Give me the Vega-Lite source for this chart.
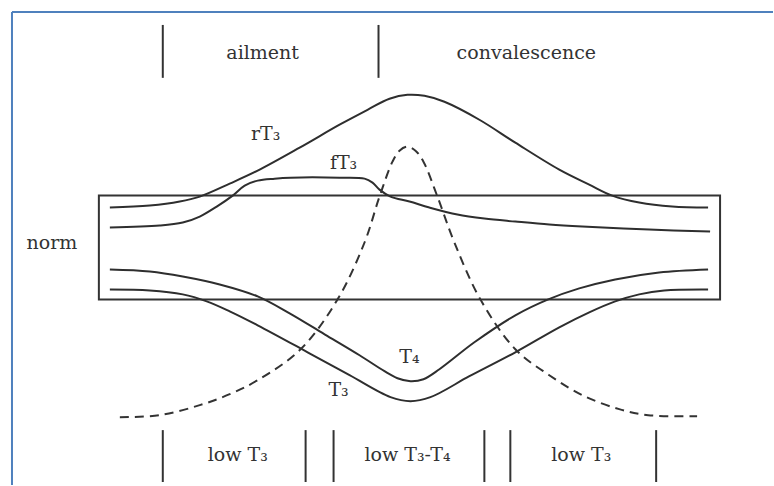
{
  "$schema": "https://vega.github.io/schema/vega-lite/v6.json",
  "width": 774,
  "height": 486,
  "autosize": {"type": "fit", "contains": "padding"},
  "padding": 0,
  "background": "white",
  "config": {"view": {"stroke": null}},
  "datasets": {
    "curves": [
      {"s": "rT3", "x": 110, "y": 208}, {"s": "rT3", "x": 150, "y": 206}, {"s": "rT3", "x": 180, "y": 202}, {"s": "rT3", "x": 200, "y": 197}, {"s": "rT3", "x": 230, "y": 184}, {"s": "rT3", "x": 258, "y": 171}, {"s": "rT3", "x": 300, "y": 148}, {"s": "rT3", "x": 340, "y": 125}, {"s": "rT3", "x": 368, "y": 110}, {"s": "rT3", "x": 390, "y": 99}, {"s": "rT3", "x": 408, "y": 95}, {"s": "rT3", "x": 425, "y": 96}, {"s": "rT3", "x": 445, "y": 102}, {"s": "rT3", "x": 480, "y": 120}, {"s": "rT3", "x": 516, "y": 143}, {"s": "rT3", "x": 560, "y": 170}, {"s": "rT3", "x": 590, "y": 185}, {"s": "rT3", "x": 613, "y": 196}, {"s": "rT3", "x": 640, "y": 203}, {"s": "rT3", "x": 673, "y": 207}, {"s": "rT3", "x": 709, "y": 208},
      {"s": "fT3", "x": 110, "y": 228}, {"s": "fT3", "x": 160, "y": 226}, {"s": "fT3", "x": 183, "y": 223}, {"s": "fT3", "x": 200, "y": 217}, {"s": "fT3", "x": 217, "y": 207}, {"s": "fT3", "x": 233, "y": 196}, {"s": "fT3", "x": 245, "y": 186}, {"s": "fT3", "x": 258, "y": 181}, {"s": "fT3", "x": 275, "y": 179}, {"s": "fT3", "x": 291, "y": 178}, {"s": "fT3", "x": 340, "y": 178}, {"s": "fT3", "x": 365, "y": 179}, {"s": "fT3", "x": 373, "y": 183}, {"s": "fT3", "x": 380, "y": 190}, {"s": "fT3", "x": 391, "y": 197}, {"s": "fT3", "x": 410, "y": 202}, {"s": "fT3", "x": 430, "y": 208}, {"s": "fT3", "x": 458, "y": 215}, {"s": "fT3", "x": 485, "y": 219}, {"s": "fT3", "x": 516, "y": 222}, {"s": "fT3", "x": 550, "y": 225}, {"s": "fT3", "x": 583, "y": 227}, {"s": "fT3", "x": 650, "y": 230}, {"s": "fT3", "x": 711, "y": 232},
      {"s": "T4", "x": 110, "y": 270}, {"s": "T4", "x": 150, "y": 272}, {"s": "T4", "x": 183, "y": 277}, {"s": "T4", "x": 220, "y": 285}, {"s": "T4", "x": 258, "y": 297}, {"s": "T4", "x": 290, "y": 314}, {"s": "T4", "x": 325, "y": 335}, {"s": "T4", "x": 360, "y": 356}, {"s": "T4", "x": 385, "y": 372}, {"s": "T4", "x": 398, "y": 379}, {"s": "T4", "x": 411, "y": 382}, {"s": "T4", "x": 424, "y": 380}, {"s": "T4", "x": 440, "y": 370}, {"s": "T4", "x": 475, "y": 343}, {"s": "T4", "x": 516, "y": 316}, {"s": "T4", "x": 549, "y": 300}, {"s": "T4", "x": 580, "y": 289}, {"s": "T4", "x": 616, "y": 280}, {"s": "T4", "x": 660, "y": 273}, {"s": "T4", "x": 709, "y": 270},
      {"s": "T3", "x": 110, "y": 290}, {"s": "T3", "x": 150, "y": 291}, {"s": "T3", "x": 183, "y": 295}, {"s": "T3", "x": 207, "y": 302}, {"s": "T3", "x": 230, "y": 312}, {"s": "T3", "x": 258, "y": 326}, {"s": "T3", "x": 308, "y": 353}, {"s": "T3", "x": 350, "y": 376}, {"s": "T3", "x": 391, "y": 398}, {"s": "T3", "x": 411, "y": 402}, {"s": "T3", "x": 431, "y": 398}, {"s": "T3", "x": 470, "y": 377}, {"s": "T3", "x": 516, "y": 353}, {"s": "T3", "x": 560, "y": 328}, {"s": "T3", "x": 590, "y": 313}, {"s": "T3", "x": 616, "y": 302}, {"s": "T3", "x": 640, "y": 295}, {"s": "T3", "x": 665, "y": 291}, {"s": "T3", "x": 709, "y": 290}
    ],
    "dashed": [
      {"x": 120, "y": 418}, {"x": 160, "y": 416}, {"x": 200, "y": 406}, {"x": 230, "y": 395}, {"x": 258, "y": 381}, {"x": 301, "y": 350}, {"x": 338, "y": 300}, {"x": 365, "y": 243}, {"x": 380, "y": 197}, {"x": 393, "y": 162}, {"x": 400, "y": 151}, {"x": 408, "y": 147}, {"x": 416, "y": 151}, {"x": 424, "y": 162}, {"x": 438, "y": 197}, {"x": 455, "y": 243}, {"x": 481, "y": 300}, {"x": 516, "y": 350}, {"x": 550, "y": 376}, {"x": 583, "y": 396}, {"x": 620, "y": 410}, {"x": 649, "y": 416}, {"x": 698, "y": 417}
    ],
    "bars": [
      {"x": 163, "y": 25, "y2": 78}, {"x": 379, "y": 25, "y2": 78},
      {"x": 163, "y": 431, "y2": 483}, {"x": 306, "y": 431, "y2": 483}, {"x": 334, "y": 431, "y2": 483}, {"x": 485, "y": 431, "y2": 483}, {"x": 511, "y": 431, "y2": 483}, {"x": 657, "y": 431, "y2": 483}
    ],
    "box": [{"x": 99, "x2": 721, "y": 196, "y2": 300}],
    "labels": [
      {"t": "ailment", "x": 263, "y": 53},
      {"t": "convalescence", "x": 527, "y": 53},
      {"t": "rT₃", "x": 266, "y": 134},
      {"t": "fT₃", "x": 344, "y": 163},
      {"t": "norm", "x": 52, "y": 243},
      {"t": "T₄", "x": 410, "y": 358},
      {"t": "T₃", "x": 339, "y": 391},
      {"t": "low T₃", "x": 238, "y": 456},
      {"t": "low T₃-T₄", "x": 408, "y": 456},
      {"t": "low T₃", "x": 582, "y": 456}
    ],
    "frameH": [{"x": 12, "x2": 774, "y": 12}],
    "frameV": [{"x": 12, "y": 12, "y2": 486}]
  },
  "encoding": {
    "x": {"field": "x", "type": "quantitative", "scale": {"domain": [0, 774], "nice": false, "zero": false}, "axis": null},
    "y": {"field": "y", "type": "quantitative", "scale": {"domain": [0, 486], "nice": false, "zero": false, "reverse": true}, "axis": null}
  },
  "layer": [
    {
      "data": {"name": "frameH"},
      "mark": {"type": "rule", "color": "#4f81bd", "strokeWidth": 2},
      "encoding": {"x2": {"field": "x2"}}
    },
    {
      "data": {"name": "frameV"},
      "mark": {"type": "rule", "color": "#4f81bd", "strokeWidth": 2},
      "encoding": {"y2": {"field": "y2"}}
    },
    {
      "data": {"name": "box"},
      "mark": {"type": "rect", "fill": null, "fillOpacity": 0, "stroke": "#333333", "strokeWidth": 2},
      "encoding": {"x2": {"field": "x2"}, "y2": {"field": "y2"}}
    },
    {
      "data": {"name": "bars"},
      "mark": {"type": "rule", "color": "#333333", "strokeWidth": 2},
      "encoding": {"y2": {"field": "y2"}}
    },
    {
      "data": {"name": "curves"},
      "mark": {"type": "line", "interpolate": "catmull-rom", "color": "#2e2e2e", "strokeWidth": 2},
      "encoding": {"detail": {"field": "s"}, "order": {"field": "x", "type": "quantitative"}}
    },
    {
      "data": {"name": "dashed"},
      "mark": {"type": "line", "interpolate": "catmull-rom", "color": "#333333", "strokeWidth": 2, "strokeDash": [9, 6]},
      "encoding": {"order": {"field": "x", "type": "quantitative"}}
    },
    {
      "data": {"name": "labels"},
      "mark": {"type": "text", "font": "DejaVu Serif", "fontSize": 19, "color": "#333333", "align": "center", "baseline": "middle"},
      "encoding": {"text": {"field": "t"}}
    }
  ]
}
